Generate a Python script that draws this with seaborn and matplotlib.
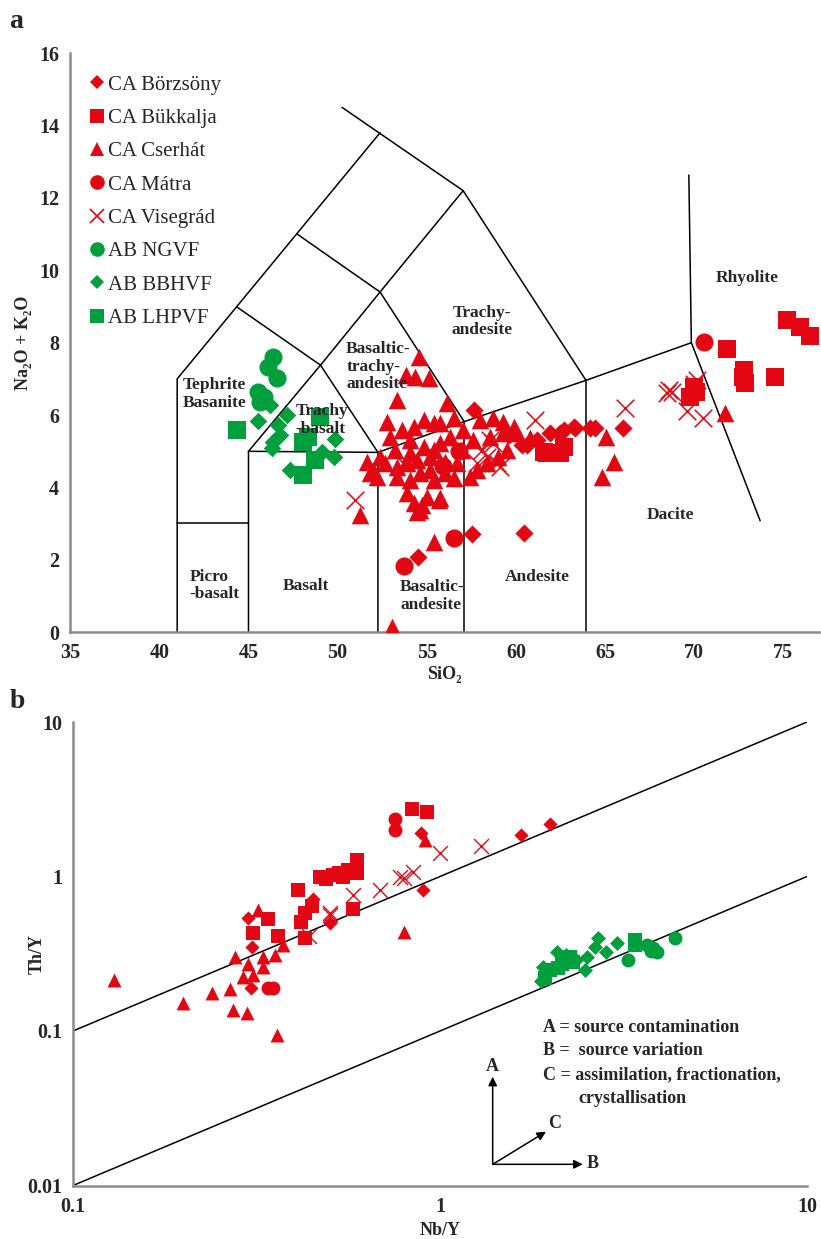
import matplotlib
matplotlib.use('Agg')
import matplotlib.pyplot as plt
import seaborn as sns
from matplotlib.lines import Line2D
from matplotlib.ticker import FixedLocator, FuncFormatter, NullFormatter

RED = '#E30613'
GREEN = '#009F3D'
GREY = '#8C8C8C'

# ---------------- Panel a: TAS data (SiO2, Na2O+K2O) ----------------
bor_sio2 = [57.66, 57.53, 60.47, 54.53, 63.33, 62.67, 61.93, 60.34, 64.45, 66.0, 62.5, 60.62, 63.23, 64.17, 61.2, 59.6]
bor_alk = [6.14, 2.71, 2.73, 2.09, 5.65, 5.59, 5.5, 5.17, 5.63, 5.65, 5.5, 5.17, 5.66, 5.64, 5.3, 5.45]

buk_sio2 = [75.21, 75.95, 76.5, 71.84, 74.55, 72.77, 72.87, 72.75, 69.97, 69.78, 61.74, 62.49, 62.67, 61.55, 70.1]
buk_alk = [8.63, 8.44, 8.18, 7.83, 7.06, 7.25, 6.88, 7.05, 6.79, 6.51, 4.94, 4.94, 5.13, 4.99, 6.65]

cse_sio2 = [54.54, 54.35, 55.10, 53.84, 53.32, 56.13, 52.76, 54.82, 52.95, 55.38, 56.5, 55.75, 57.06, 58.0,
            58.74, 59.3, 59.87, 60.8, 52.0, 52.66, 53.32, 53.88, 54.44, 55.19, 56.03, 56.69, 57.81, 58.37,
            59.02, 59.49, 54.07, 55.38, 56.5, 53.88, 54.63, 55.66, 54.26, 55.0, 51.26, 53.23, 54.07, 54.82,
            55.75, 56.31, 54.26, 53.6, 52.38, 51.64, 52.2, 51.82, 55.19, 57.43, 53.32, 54.63, 56.03, 56.97,
            57.62, 58.56, 59.3, 60.05, 54.07, 55.38, 54.72, 55.75, 54.44, 53.04, 55.38, 65.05, 65.48, 64.83, 71.7]
cse_alk = [7.61, 7.06, 7.02, 7.11, 6.42, 6.33, 5.82, 5.86, 5.40, 5.77, 5.91, 5.77, 5.59, 5.86,
           5.91, 5.82, 5.68, 5.36, 4.48, 4.67, 4.57, 4.67, 4.76, 4.85, 4.71, 4.67, 4.48, 4.67,
           4.85, 5.04, 4.21, 4.21, 4.25, 3.84, 3.38, 3.65, 3.56, 3.75, 3.24, 5.04, 5.31, 5.13,
           5.22, 5.40, 5.68, 5.59, 4.85, 4.71, 4.3, 4.39, 4.48, 4.3, 4.3, 4.39, 4.39, 5.04,
           5.31, 5.40, 5.50, 5.5, 4.94, 5.04, 3.52, 3.70, 3.33, 0.15, 2.5, 5.4, 4.71, 4.3, 6.07]

mat_sio2 = [70.53, 53.75, 56.5, 55.9, 56.8]
mat_alk = [8.03, 1.83, 2.6, 4.6, 5.0]

vis_sio2 = [50.98, 66.13, 68.75, 68.47, 69.6, 70.5, 70.16, 61.08, 57.81, 58.37, 58.74, 58.93, 59.12,
            58.09, 58.56, 53.69, 68.6, 70.0]
vis_alk = [3.65, 6.19, 6.65, 6.6, 6.1, 5.91, 6.97, 5.87, 4.67, 4.85, 5.22, 4.67, 4.57,
           5.04, 5.31, 4.67, 6.7, 6.85]

ngvf_sio2 = [46.4, 46.12, 46.62, 45.56, 45.88, 45.65]
ngvf_alk = [7.60, 7.34, 7.02, 6.65, 6.51, 6.37]

bbh_sio2 = [46.21, 45.56, 47.15, 46.68, 46.4, 46.77, 46.3, 47.99, 49.86, 47.33, 49.77, 49.11]
bbh_alk = [6.28, 5.85, 6.0, 5.73, 5.27, 5.45, 5.1, 5.36, 5.33, 4.48, 4.85, 4.99]

lhp_sio2 = [44.35, 49.02, 48.36, 48.08, 48.74, 48.08]
lhp_alk = [5.59, 5.96, 5.40, 5.27, 4.76, 4.35]

# TAS field boundaries (as drawn in the reference)
tas_lines = [
    [(41, 0), (41, 7), (52.38, 13.8)],
    [(50.25, 14.5), (57.04, 12.2), (63.93, 6.96)],
    [(41, 3.02), (45, 3.02)],
    [(45, 0), (45, 5), (52.26, 4.97)],
    [(45, 5), (49.04, 7.38), (52.26, 4.97)],
    [(44.37, 8.98), (49.04, 7.38), (52.38, 9.4), (57.04, 12.2)],
    [(47.73, 11.0), (52.38, 9.4), (57.1, 5.82)],
    [(52.26, 0), (52.26, 4.97), (57.1, 5.82), (63.93, 6.96), (69.84, 8.0)],
    [(57.1, 0), (57.1, 5.82)],
    [(63.93, 0), (63.93, 6.96)],
    [(69.7, 12.63), (69.84, 8.0), (73.7, 3.08)],
]

field_labels = [
    ("Rhyolite", 73.0, 9.8, 'center'),
    ("Dacite", 68.66, 3.24, 'center'),
    ("Trachy-\nandesite", 58.09, 8.58, 'center'),
    ("Basaltic-\ntrachy-\nandesite", 50.48, 7.34, 'left'),
    ("Tephrite\nBasanite", 41.29, 6.58, 'left'),
    ("Trachy\n-basalt", 47.62, 5.86, 'left'),
    ("Picro\n-basalt", 41.68, 1.29, 'left'),
    ("Basalt", 48.23, 1.29, 'center'),
    ("Basaltic-\nandesite", 53.5, 1.0, 'left'),
    ("Andesite", 61.2, 1.52, 'center'),
]

# ---------------- Panel b: Th/Y vs Nb/Y ----------------
bor_nby = [1.66, 2.0, 0.89, 0.90, 0.45, 0.50, 0.30, 0.305, 0.307]
bor_thy = [1.86, 2.19, 1.90, 0.82, 0.72, 0.50, 0.54, 0.19, 0.35]

buk_nby = [0.84, 0.92, 0.593, 0.593, 0.544, 0.51, 0.47, 0.53, 0.41, 0.43, 0.417, 0.447, 0.58, 0.43,
           0.34, 0.31, 0.363, 0.56, 0.49]
buk_thy = [2.73, 2.63, 1.28, 1.05, 1.0, 1.02, 0.99, 1.06, 0.82, 0.58, 0.51, 0.64, 0.62, 0.40,
           0.53, 0.43, 0.41, 1.1, 0.97]

cse_nby = [0.91, 0.80, 0.32, 0.276, 0.33, 0.355, 0.374, 0.29, 0.33, 0.129, 0.199, 0.239, 0.268,
           0.273, 0.297, 0.36, 0.30, 0.31]
cse_thy = [1.72, 0.44, 0.61, 0.30, 0.30, 0.31, 0.36, 0.224, 0.26, 0.214, 0.152, 0.175, 0.186,
           0.137, 0.131, 0.094, 0.27, 0.23]

mat_nby = [0.753, 0.753, 0.34, 0.35]
mat_thy = [2.34, 2.0, 0.19, 0.19]

vis_nby = [1.0, 1.29, 0.58, 0.686, 0.78, 0.845, 0.80, 0.50, 0.50, 0.44]
vis_thy = [1.41, 1.58, 0.76, 0.82, 1.0, 1.07, 0.98, 0.58, 0.56, 0.41]

ngvf_nby = [4.37, 3.81, 3.66, 3.89, 3.26, 3.75]
ngvf_thy = [0.40, 0.343, 0.36, 0.326, 0.29, 0.33]

bbh_nby = [2.70, 3.03, 2.84, 2.51, 2.48, 2.08, 1.91, 1.89, 2.65, 2.35, 2.2]
bbh_thy = [0.40, 0.37, 0.326, 0.30, 0.248, 0.326, 0.26, 0.21, 0.35, 0.29, 0.31]

lhp_nby = [3.40, 3.40, 2.26, 2.10, 1.93, 2.3, 2.0, 2.15]
lhp_thy = [0.388, 0.36, 0.30, 0.255, 0.22, 0.28, 0.25, 0.27]

array_upper = [(0.1, 0.1), (10, 10)]
array_lower = [(0.1, 0.01), (10, 1)]

legend_names = ["CA Börzsöny", "CA Bükkalja", "CA Cserhát", "CA Mátra", "CA Visegrád",
                "AB NGVF", "AB BBHVF", "AB LHPVF"]

# ---------------- style ----------------
sns.set_style('white')
plt.rcParams['font.family'] = ['Liberation Serif', 'DejaVu Serif']
plt.rcParams['axes.unicode_minus'] = False

fig = plt.figure(figsize=(8.21, 12.39), dpi=100)
W, H = 821, 1239
ax_a = fig.add_axes([70.2 / W, 1 - 632.3 / H, (819 - 70.2) / W, (632.3 - 53.1) / H])
ax_b = fig.add_axes([73 / W, 1 - 1185.5 / H, 734 / W, 463.5 / H])

groups_a = [
    (bor_sio2, bor_alk, 'D', RED, 85),
    (buk_sio2, buk_alk, 's', RED, 160),
    (cse_sio2, cse_alk, '^', RED, 160),
    (mat_sio2, mat_alk, 'o', RED, 169),
    (vis_sio2, vis_alk, 'x', RED, 160),
    (ngvf_sio2, ngvf_alk, 'o', GREEN, 169),
    (bbh_sio2, bbh_alk, 'D', GREEN, 80),
    (lhp_sio2, lhp_alk, 's', GREEN, 160),
]
groups_b = [
    (bor_nby, bor_thy, 'D', RED, 52),
    (buk_nby, buk_thy, 's', RED, 95),
    (cse_nby, cse_thy, '^', RED, 100),
    (mat_nby, mat_thy, 'o', RED, 100),
    (vis_nby, vis_thy, 'x', RED, 115),
    (ngvf_nby, ngvf_thy, 'o', GREEN, 100),
    (bbh_nby, bbh_thy, 'D', GREEN, 58),
    (lhp_nby, lhp_thy, 's', GREEN, 95),
]

# ---- panel a ----
for seg in tas_lines:
    xs = [p[0] for p in seg]
    ys = [p[1] for p in seg]
    ax_a.plot(xs, ys, color='black', lw=1.1, zorder=1)

for xs, ys, mk, col, s in groups_a:
    if mk == 'x':
        sns.scatterplot(x=xs, y=ys, marker='x', color=col, s=s, linewidth=1.1, ax=ax_a, zorder=3)
    else:
        sns.scatterplot(x=xs, y=ys, marker=mk, color=col, s=s, linewidth=0, ax=ax_a, zorder=3)

for txt, x, y, ha in field_labels:
    ax_a.text(x, y, txt, ha=ha, va='center', fontsize=12.5, fontweight='bold', linespacing=1.12, zorder=4)

ax_a.set_xlim(35, 77)
ax_a.set_ylim(0, 16)
ax_a.xaxis.set_major_locator(FixedLocator(list(range(35, 80, 5))))
ax_a.yaxis.set_major_locator(FixedLocator(list(range(0, 18, 2))))
ax_a.set_xlabel("SiO₂", fontsize=13, fontweight='bold', labelpad=2)
ax_a.set_ylabel("Na₂O + K₂O", fontsize=13, fontweight='bold')
ax_a.yaxis.set_label_coords(-0.051, 0.5)

handles = []
for (xs, ys, mk, col, s), name in zip(groups_a, legend_names):
    ms = {'D': 7.3, 's': 10, '^': 10.5, 'o': 10.5, 'x': 10}[mk]
    handles.append(Line2D([], [], marker=mk, color=col, linestyle='',
                          markersize=ms, markeredgewidth=1.2 if mk == 'x' else 0))
leg = ax_a.legend(handles, legend_names, loc='upper left', bbox_to_anchor=(0.024, 0.962),
                  frameon=False, fontsize=15, handlelength=0.8, handletextpad=0.15,
                  labelspacing=0.66, borderpad=0, borderaxespad=0)

# ---- panel b ----
ax_b.set_xscale('log')
ax_b.set_yscale('log')
for line in (array_upper, array_lower):
    ax_b.plot([p[0] for p in line], [p[1] for p in line], color='black', lw=1.1, zorder=1)

for xs, ys, mk, col, s in groups_b:
    if mk == 'x':
        sns.scatterplot(x=xs, y=ys, marker='x', color=col, s=s, linewidth=1.0, ax=ax_b, zorder=3)
    else:
        sns.scatterplot(x=xs, y=ys, marker=mk, color=col, s=s, linewidth=0, ax=ax_b, zorder=3)

ax_b.set_xlim(0.1, 10)
ax_b.set_ylim(0.01, 10)
fmt = FuncFormatter(lambda v, _: f"{v:g}")
ax_b.xaxis.set_major_locator(FixedLocator([0.1, 1, 10]))
ax_b.yaxis.set_major_locator(FixedLocator([0.01, 0.1, 1, 10]))
ax_b.xaxis.set_major_formatter(fmt)
ax_b.yaxis.set_major_formatter(fmt)
minors_x = [m * d for d in (0.1, 1) for m in range(2, 10)]
minors_y = [m * d for d in (0.01, 0.1, 1) for m in range(2, 10)]
ax_b.xaxis.set_minor_locator(FixedLocator(minors_x))
ax_b.yaxis.set_minor_locator(FixedLocator(minors_y))
ax_b.xaxis.set_minor_formatter(NullFormatter())
ax_b.yaxis.set_minor_formatter(NullFormatter())
ax_b.set_xlabel("Nb/Y", fontsize=13, fontweight='bold', labelpad=4)
ax_b.set_ylabel("Th/Y", fontsize=13, fontweight='bold')
ax_b.yaxis.set_label_coords(-0.037, 0.5)

ann = dict(transform=ax_b.transAxes, fontsize=13, fontweight='bold', va='center', ha='left')
ax_b.text(0.640, 0.341, "A = source contamination", **ann)
ax_b.text(0.640, 0.291, "B =  source variation", **ann)
ax_b.text(0.640, 0.240, "C = assimilation, fractionation,", **ann)
ax_b.text(0.689, 0.188, "crystallisation", **ann)
arrowprops = dict(arrowstyle='-|>', color='black', lw=1.1, mutation_scale=13, shrinkA=0, shrinkB=0)
o = (0.5718, 0.0457)
ax_b.annotate("", xy=(0.5718, 0.2347), xytext=o, xycoords='axes fraction', textcoords='axes fraction', arrowprops=arrowprops)
ax_b.annotate("", xy=(0.6944, 0.0457), xytext=o, xycoords='axes fraction', textcoords='axes fraction', arrowprops=arrowprops)
ax_b.annotate("", xy=(0.6444, 0.1161), xytext=o, xycoords='axes fraction', textcoords='axes fraction', arrowprops=arrowprops)
lab = dict(transform=ax_b.transAxes, fontsize=13, fontweight='bold', ha='center', va='center')
ax_b.text(0.5718, 0.2563, "A", **lab)
ax_b.text(0.7083, 0.0480, "B", **lab)
ax_b.text(0.6555, 0.1330, "C", **lab)

# ---- common axis styling ----
for ax in (ax_a, ax_b):
    for side in ('top', 'right'):
        ax.spines[side].set_visible(False)
    for side in ('left', 'bottom'):
        ax.spines[side].set_color(GREY)
        ax.spines[side].set_linewidth(1.8)
    ax.tick_params(axis='both', which='major', direction='out', length=5, width=1.5, color=GREY,
                   labelsize=14.5, pad=3)
    ax.tick_params(axis='both', which='minor', direction='out', length=3, width=1.2, color=GREY)
    for t in ax.get_xticklabels() + ax.get_yticklabels():
        t.set_fontweight('bold')
    ax.set_facecolor('white')
    ax.grid(False)

fig.text(16 / W, 1 - 21 / H, "a", fontsize=20, fontweight='bold', ha='center', va='center')
fig.text(17 / W, 1 - 702 / H, "b", fontsize=20, fontweight='bold', ha='center', va='center')

fig.savefig('out.png', dpi=100, facecolor='white')
